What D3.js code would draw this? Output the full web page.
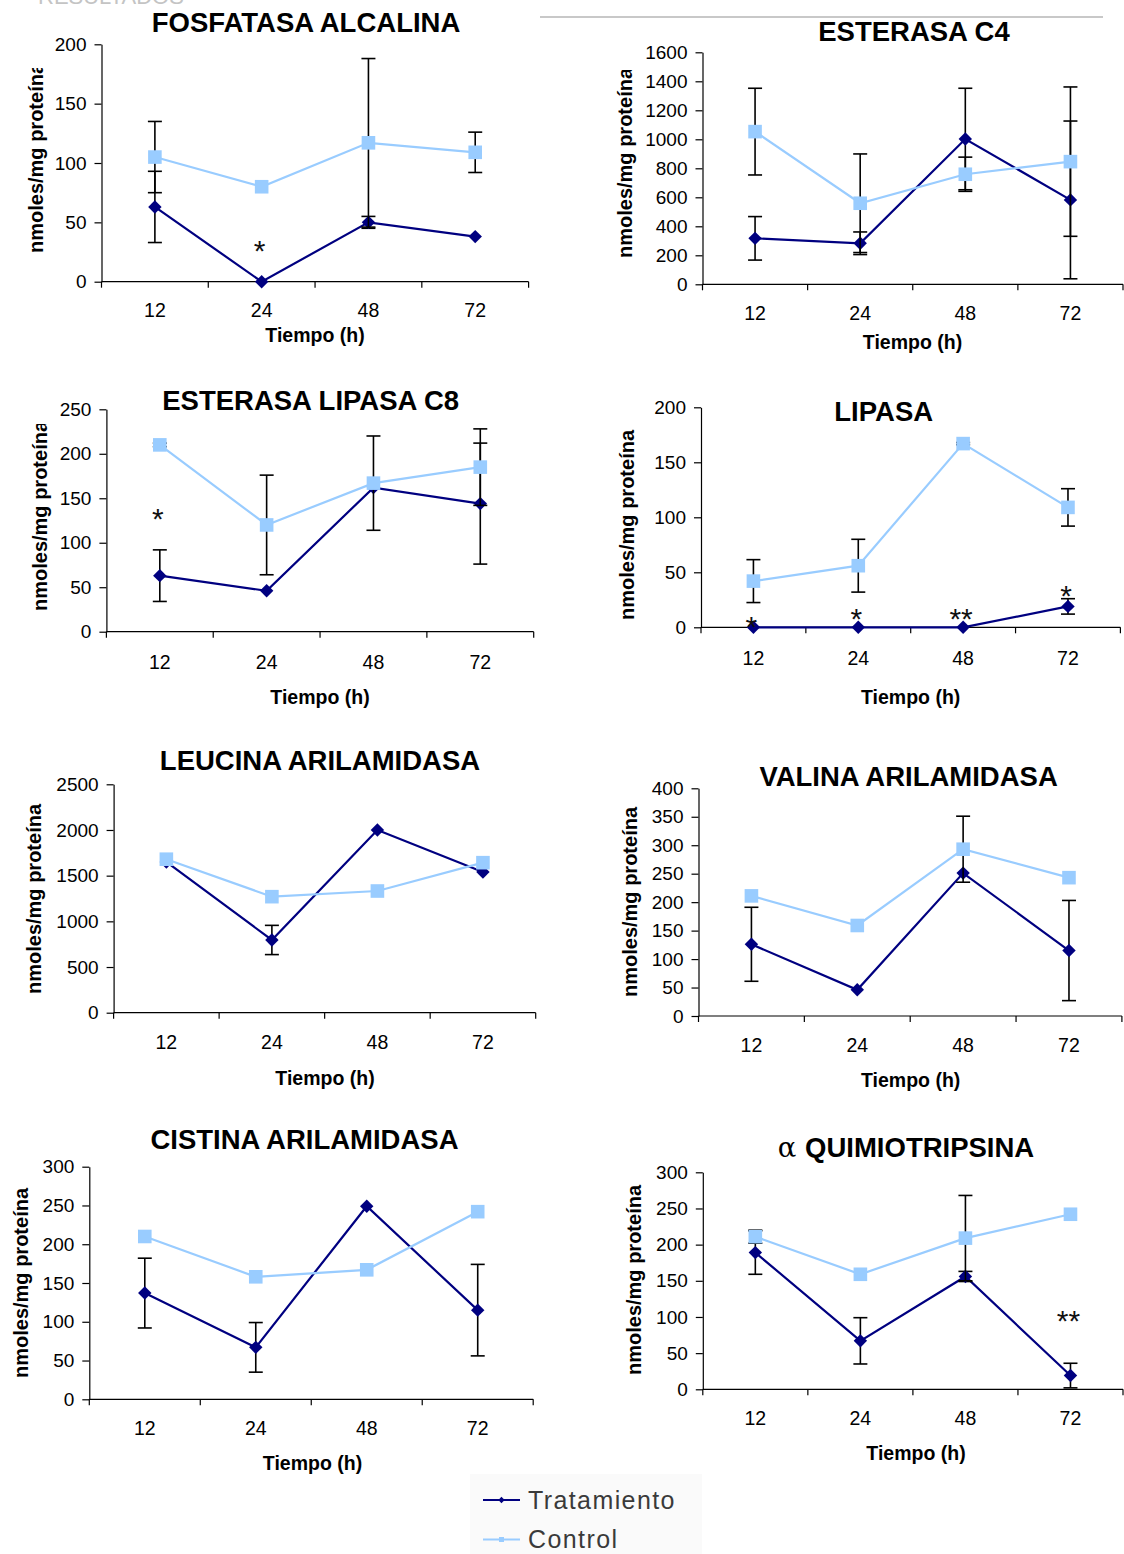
<!DOCTYPE html>
<html><head><meta charset="utf-8">
<script src="https://cdn.jsdelivr.net/npm/d3@7"></script>
<style>
html,body{margin:0;padding:0;background:#fff;}
svg{display:block;font-family:"Liberation Sans",Arial,sans-serif;}
</style></head><body>
<svg id="c" width="1124" height="1554"></svg>
<script>
// ---------- DATA ----------
const categories = ["12", "24", "48", "72"];
const titles = ["FOSFATASA ALCALINA", "ESTERASA C4", "ESTERASA LIPASA C8", "LIPASA",
  "LEUCINA ARILAMIDASA", "VALINA ARILAMIDASA", "CISTINA ARILAMIDASA", "QUIMIOTRIPSINA"];
const titlePrefix = ["", "", "", "", "", "", "", "α "];
const yMax = [200, 1600, 250, 200, 2500, 400, 300, 300];
const yStep = [50, 200, 50, 50, 500, 50, 50, 50];
const tratamiento = [
  [63, 0, 50, 38],
  [317, 283, 1002, 582],
  [63, 46, 162, 144],
  [0, 0, 0, 19],
  [1650, 796, 2000, 1540],
  [126, 46, 251, 115],
  [137, 67, 249, 115],
  [189, 67, 156, 19]
];
const errTratamiento = [
  [30, null, 5, null],
  [150, 78, 350, 544],
  [29, null, null, 68],
  [null, null, null, 7],
  [null, 160, null, null],
  [65, null, null, 88],
  [45, 32, null, 59],
  [30, 32, 7, 17]
];
const control = [
  [105, 80, 117, 109],
  [1053, 559, 759, 846],
  [210, 120, 167, 185],
  [42, 56, 167, 109],
  [1680, 1270, 1332, 1642],
  [211, 159, 293, 243],
  [210, 158, 167, 242],
  [211, 159, 209, 242]
];
const errControl = [
  [30, null, 71, 17],
  [299, 340, 118, 515],
  [2, 56, 53, 43],
  [19.5, 24, 1, 17],
  [null, null, null, null],
  [null, null, 58, null],
  [null, null, null, null],
  [9, null, 59, null]
];
// significance marks: panel, category, value (glyph centre), text
const starPanel = [0, 2, 3, 3, 3, 3, 7];
const starCat = ["24", "12", "12", "24", "48", "72", "72"];
const starValue = [32, 134, 6.6, 14, 14, 34.5, 104];
const starText = ["*", "*", "*", "*", "**", "*", "**"];
const seriesNames = ["Tratamiento", "Control"];
const xTitle = "Tiempo (h)";
const yTitle = "nmoles/mg proteína";

// ---------- LAYOUT ----------
const layout = [
  {x0:101.5, x1:528.6, yT:44.3,  yB:281.7,  tX:306,   tY:31.5,  lblY:310,    axX:315,   axY:335,    ylX:36,    ylB:253,  clip:68},
  {x0:702.5, x1:1123,  yT:52.3,  yB:284.3,  tX:914,   tY:40.7,  lblY:313,    axX:912.5, axY:341.7,  ylX:624.7, ylB:258,  clip:70},
  {x0:106.4, x1:533.7, yT:409.3, yB:631.7,  tX:310.7, tY:409.5, lblY:661.7,  axX:320,   axY:696.7,  ylX:39.6,  ylB:611,  clip:424},
  {x0:701,   x1:1120.4,yT:407.3, yB:627.3,  tX:883.7, tY:420.5, lblY:658.3,  axX:910.7, axY:696.7,  ylX:626.5, ylB:620,  clip:400},
  {x0:113.6, x1:535.7, yT:784.3, yB:1012.7, tX:320,   tY:770,   lblY:1041.7, axX:325,   axY:1078,   ylX:33.9,  ylB:994,  clip:780},
  {x0:698.5, x1:1121.9,yT:788.3, yB:1016,   tX:908.6, tY:786,   lblY:1045,   axX:910.7, axY:1080,   ylX:630,   ylB:997,  clip:790},
  {x0:89.3,  x1:533.2, yT:1166.7,yB:1399.3, tX:304.5, tY:1149,  lblY:1428.3, axX:312.5, axY:1463.3, ylX:20.7,  ylB:1378, clip:1160},
  {x0:702.8, x1:1123,  yT:1172.3,yB:1389.3, tX:906,   tY:1157,  lblY:1418.3, axX:916,   axY:1453,   ylX:633.7, ylB:1375, clip:1160}
];

const NAVY = "#000080", LIGHT = "#99CCFF";
const svg = d3.select("#c");
const defs = svg.append("defs");

// faded header text and rule
svg.append("text").attr("x", 38).attr("y", 4).attr("font-size", 22)
  .attr("fill", "#c4c4c4").text("RESULTADOS");
svg.append("line").attr("x1", 540).attr("x2", 1103).attr("y1", 17).attr("y2", 17)
  .attr("stroke", "#c8c8c8").attr("stroke-width", 2);

const diamond = d3.symbol().type(d3.symbolSquare).size(90)();
const square = d3.symbol().type(d3.symbolSquare).size(185)();

layout.forEach((L, i) => {
  const g = svg.append("g");
  const x = d3.scaleBand().domain(categories).range([L.x0, L.x1]).padding(0);
  const y = d3.scaleLinear().domain([0, yMax[i]]).range([L.yB, L.yT]);
  const cx = c => x(c) + x.bandwidth() / 2;

  // title
  const t = g.append("text").attr("x", L.tX).attr("y", L.tY).attr("text-anchor", "middle")
    .attr("font-size", 27.5).attr("font-weight", "bold").attr("fill", "#000");
  if (titlePrefix[i]) t.append("tspan").attr("font-weight", "normal").attr("font-family", "DejaVu Serif, serif").text(titlePrefix[i]);
  t.append("tspan").text(titles[i]);

  // y axis
  const ya = g.append("g").attr("transform", `translate(${L.x0},0)`)
    .call(d3.axisLeft(y).tickValues(d3.range(0, yMax[i] + 1e-9, yStep[i]))
      .tickSize(7).tickSizeOuter(0).tickPadding(8).tickFormat(d3.format("d")));
  ya.select(".domain").attr("stroke", "#000").attr("stroke-width", 1.2);
  ya.selectAll(".tick line").attr("stroke", "#000").attr("stroke-width", 1.2);
  ya.selectAll(".tick text").attr("font-size", 19).attr("fill", "#000")
    .attr("font-family", "Liberation Sans, Arial, sans-serif");

  // x axis (category boundaries as ticks)
  g.append("line").attr("x1", L.x0).attr("x2", L.x1).attr("y1", L.yB).attr("y2", L.yB)
    .attr("stroke", "#000").attr("stroke-width", 1.2);
  const edges = categories.map(c => x(c)).concat([x.range()[1]]);
  g.selectAll(".xt").data(edges).join("line")
    .attr("x1", d => d).attr("x2", d => d).attr("y1", L.yB).attr("y2", L.yB + 6)
    .attr("stroke", "#000").attr("stroke-width", 1.2);
  g.selectAll(".xl").data(categories).join("text")
    .attr("x", d => cx(d)).attr("y", L.lblY).attr("dy", "0.35em")
    .attr("text-anchor", "middle").attr("font-size", 19.5).text(d => d);

  // axis titles
  g.append("text").attr("x", L.axX).attr("y", L.axY).attr("dy", "0.35em").attr("text-anchor", "middle")
    .attr("font-size", 19.5).attr("font-weight", "bold").text(xTitle);
  const cid = "clip" + i;
  defs.append("clipPath").attr("id", cid).append("rect")
    .attr("x", L.ylX - 20).attr("y", L.clip).attr("width", 40).attr("height", 400);
  g.append("g").attr("clip-path", `url(#${cid})`).append("text")
    .attr("transform", `translate(${L.ylX},${L.ylB}) rotate(-90)`).attr("dy", "0.35em")
    .attr("font-size", 20).attr("font-weight", "bold").text(yTitle);

  // series
  const series = [
    {vals: tratamiento[i], errs: errTratamiento[i], color: NAVY, sym: diamond, rot: 45},
    {vals: control[i], errs: errControl[i], color: LIGHT, sym: square, rot: 0}
  ];
  series.forEach(s => {
    const pts = categories.map((c, k) => ({c, v: s.vals[k], e: s.errs[k]}));
    g.append("path").attr("d", d3.line().x(d => cx(d.c)).y(d => y(d.v))(pts))
      .attr("fill", "none").attr("stroke", s.color).attr("stroke-width", 2.2);
    const eb = g.append("g").attr("stroke", "#000").attr("stroke-width", 1.6);
    pts.filter(d => d.e != null).forEach(d => {
      const xx = cx(d.c), yt = y(d.v + d.e), yb = y(Math.max(0, d.v - d.e));
      eb.append("line").attr("x1", xx).attr("x2", xx).attr("y1", yt).attr("y2", yb);
      eb.append("line").attr("x1", xx - 7).attr("x2", xx + 7).attr("y1", yt).attr("y2", yt);
      eb.append("line").attr("x1", xx - 7).attr("x2", xx + 7).attr("y1", yb).attr("y2", yb);
    });
    g.selectAll(null).data(pts).join("path").attr("d", s.sym)
      .attr("transform", d => `translate(${cx(d.c)},${y(d.v)}) rotate(${s.rot})`)
      .attr("fill", s.color);
  });

  // stars
  starPanel.forEach((p, k) => {
    if (p !== i) return;
    g.append("text").attr("x", cx(starCat[k]) - 2).attr("y", y(starValue[k]) + 17)
      .attr("text-anchor", "middle").attr("font-size", 30).attr("fill", "#111").text(starText[k]);
  });
});

// legend
const lg = svg.append("g");
lg.append("rect").attr("x", 470).attr("y", 1474).attr("width", 232).attr("height", 80).attr("fill", "#fafafa");
const legColors = [NAVY, LIGHT];
const legSyms = [d3.symbol().type(d3.symbolSquare).size(20)(), d3.symbol().type(d3.symbolSquare).size(25)()];
seriesNames.forEach((n, k) => {
  const yy = 1500 + k * 39.5;
  lg.append("line").attr("x1", 483).attr("x2", 520).attr("y1", yy).attr("y2", yy)
    .attr("stroke", legColors[k]).attr("stroke-width", 2);
  lg.append("path").attr("d", legSyms[k]).attr("transform", `translate(501.5,${yy}) rotate(${k === 0 ? 45 : 0})`)
    .attr("fill", legColors[k]);
  lg.append("text").attr("x", 528).attr("y", yy).attr("dy", "0.34em").attr("font-size", 25)
    .attr("letter-spacing", 1.4).attr("fill", "#3a3a3a").text(n);
});
</script>
</body></html>
